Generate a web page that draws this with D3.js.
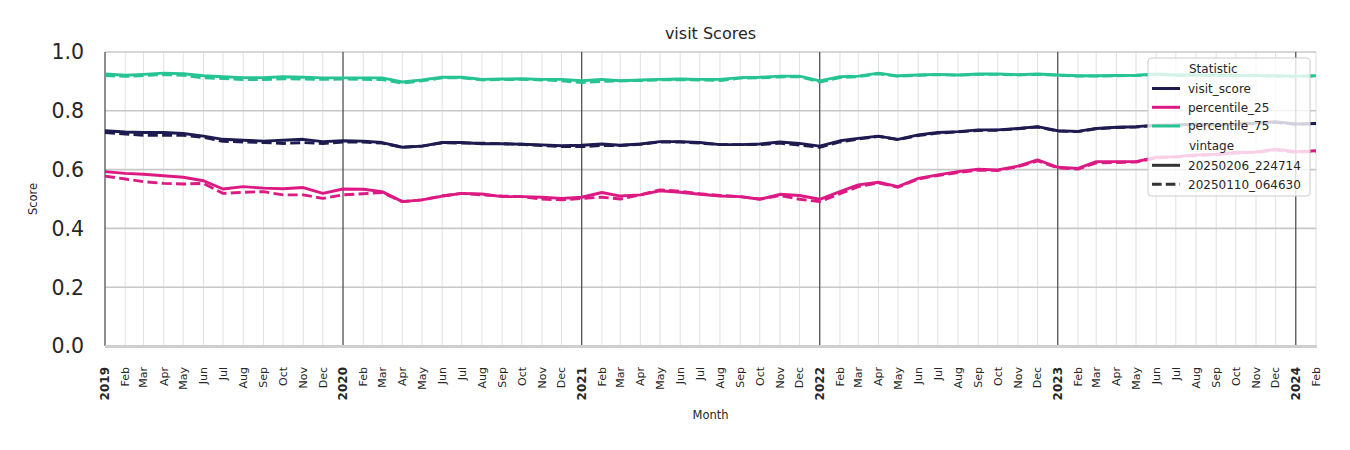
<!DOCTYPE html>
<html>
<head>
<meta charset="utf-8">
<script src="https://cdn.jsdelivr.net/npm/d3@7/dist/d3.min.js"></script>
<style>
  html, body { margin: 0; padding: 0; background: #fff; }
  svg { display: block; font-family: "DejaVu Sans", sans-serif; }
</style>
</head>
<body>
<svg id="chart" width="1350" height="450"></svg>
<script>
// ---------- DATA ----------
const months = d3.timeMonths(new Date(2019, 0, 1), new Date(2024, 1, 2)); // Jan 2019 .. Feb 2024 (62)
const yTicks = [0.0, 0.2, 0.4, 0.6, 0.8, 1.0];
const statistics = ["visit_score", "percentile_25", "percentile_75"];
const vintages = ["20250206_224714", "20250110_064630"];

const visitScoreNew = [
  .732,.728,.726,.726,.723,.714,.703,.700,.697,.700,.703,.695,
  .698,.697,.692,.676,.680,.692,.692,.688,.688,.686,.684,.681,
  .683,.687,.683,.687,.695,.695,.692,.685,.685,.687,.694,.689,
  .680,.698,.706,.714,.703,.718,.726,.729,.735,.735,.740,.746,
  .732,.730,.740,.744,.746,.751,.752,.754,.752,.755,.758,.763,
  .755,.757];
const visitScoreOld = [
  .726,.721,.717,.717,.717,.710,.696,.694,.692,.689,.692,.689,
  .694,.694,.690,.676,.680,.691,.690,.690,.688,.686,.682,.678,
  .678,.682,.682,.686,.694,.694,.690,.685,.685,.685,.690,.683,
  .676,.694,.704,.713,.702,.716,.724,.728,.733,.734,.739,.745,
  .731,.729,.739,.743,.745,.750,.751,.753,.751,.754,.757,.761,
  .754,.756];
const p25New = [
  .593,.587,.584,.579,.574,.562,.534,.542,.537,.535,.539,.519,
  .534,.533,.525,.491,.497,.510,.519,.517,.508,.508,.506,.502,
  .506,.522,.510,.514,.528,.523,.516,.510,.508,.499,.516,.512,
  .499,.525,.548,.557,.542,.570,.582,.593,.601,.599,.612,.633,
  .608,.604,.627,.627,.627,.642,.644,.650,.652,.658,.660,.669,
  .661,.664];
const p25Old = [
  .578,.568,.559,.553,.551,.553,.519,.523,.525,.514,.514,.502,
  .514,.518,.522,.491,.497,.510,.519,.514,.510,.508,.500,.497,
  .502,.506,.500,.514,.531,.526,.518,.512,.508,.500,.512,.499,
  .491,.518,.542,.555,.540,.568,.580,.590,.598,.597,.610,.630,
  .606,.602,.623,.624,.626,.640,.643,.648,.651,.656,.659,.667,
  .659,.662];
const p75New = [
  .925,.921,.924,.928,.926,.919,.916,.913,.913,.916,.914,.912,
  .912,.912,.912,.898,.905,.914,.914,.907,.908,.909,.907,.907,
  .902,.907,.902,.905,.907,.908,.907,.907,.913,.914,.918,.918,
  .902,.916,.918,.928,.919,.922,.924,.922,.925,.925,.923,.925,
  .922,.919,.919,.920,.921,.925,.922,.922,.921,.920,.920,.919,
  .918,.919];
const p75Old = [
  .920,.917,.920,.923,.921,.912,.910,.906,.906,.909,.908,.907,
  .908,.907,.906,.894,.902,.912,.912,.905,.906,.907,.905,.902,
  .896,.900,.902,.903,.905,.906,.905,.903,.911,.912,.915,.916,
  .898,.913,.916,.926,.917,.921,.923,.921,.924,.924,.922,.924,
  .921,.918,.918,.919,.920,.924,.921,.921,.920,.919,.919,.918,
  .917,.918];

const seriesValues = {
  visit_score:   { "20250206_224714": visitScoreNew, "20250110_064630": visitScoreOld },
  percentile_25: { "20250206_224714": p25New,        "20250110_064630": p25Old },
  percentile_75: { "20250206_224714": p75New,        "20250110_064630": p75Old }
};

// ---------- STYLE ----------
const colors = { visit_score: "#1d1b4f", percentile_25: "#dd1a84", percentile_75: "#27c493" };
const dashes = { "20250206_224714": null, "20250110_064630": "10,4.3" };

const svg = d3.select("#chart");
const margin = { left: 105, right: 34, top: 52, bottom: 104 };
const W = 1350, H = 450;
const x = d3.scaleTime()
  .domain([new Date(2019, 0, 1), new Date(2024, 1, 1)])
  .range([margin.left, W - margin.right]);
const y = d3.scaleLinear().domain([0, 1]).range([H - margin.bottom, margin.top]);

// month grid (light)
svg.append("g").selectAll("line")
  .data(months.filter(d => d.getMonth() !== 0))
  .join("line")
  .attr("x1", d => x(d)).attr("x2", d => x(d))
  .attr("y1", y(1)).attr("y2", y(0))
  .attr("stroke", "#dedede").attr("stroke-width", 0.9);

// horizontal grid
svg.append("g").selectAll("line")
  .data(yTicks.filter(v => v > 0))
  .join("line")
  .attr("x1", x.range()[0]).attr("x2", x.range()[1])
  .attr("y1", d => y(d)).attr("y2", d => y(d))
  .attr("stroke", "#c8c8c8").attr("stroke-width", 1.6);

// year lines (dark)
svg.append("g").selectAll("line")
  .data(months.filter(d => d.getMonth() === 0))
  .join("line")
  .attr("x1", d => x(d)).attr("x2", d => x(d))
  .attr("y1", y(1)).attr("y2", y(0))
  .attr("stroke", "#444").attr("stroke-width", 1.2);

// bottom baseline
svg.append("line")
  .attr("x1", x.range()[0]).attr("x2", x.range()[1] + 1)
  .attr("y1", y(0) + 0.5).attr("y2", y(0) + 0.5)
  .attr("stroke", "#cfcfcf").attr("stroke-width", 3);

// lines
const line = d3.line().x((d, i) => x(months[i])).y(d => y(d));
const gLines = svg.append("g");
statistics.forEach(s => {
  vintages.forEach(v => {
    gLines.append("path")
      .datum(seriesValues[s][v])
      .attr("d", line)
      .attr("fill", "none")
      .attr("stroke", colors[s])
      .attr("stroke-width", 2.9)
      .attr("stroke-linejoin", "round")
      .attr("stroke-dasharray", dashes[v]);
  });
});

// y tick labels
svg.append("g").selectAll("text")
  .data(yTicks)
  .join("text")
  .attr("x", 84).attr("y", d => y(d))
  .attr("dy", "0.36em")
  .attr("text-anchor", "end")
  .attr("font-size", 20.5)
  .attr("fill", "#262626")
  .text(d => d3.format(".1f")(d));

// x tick labels
const fmtMonth = d3.timeFormat("%b");
svg.append("g").selectAll("text")
  .data(months)
  .join("text")
  .attr("transform", d => `translate(${x(d)},${y(0) + 21}) rotate(-90)`)
  .attr("text-anchor", "end")
  .attr("dy", "0.35em")
  .attr("font-size", d => d.getMonth() === 0 ? 12 : 11)
  .attr("font-weight", d => d.getMonth() === 0 ? "bold" : "normal")
  .attr("fill", "#262626")
  .text(d => d.getMonth() === 0 ? d.getFullYear() : fmtMonth(d));

// title & axis labels
svg.append("text").attr("x", (x.range()[0] + x.range()[1]) / 2).attr("y", 39)
  .attr("text-anchor", "middle").attr("font-size", 16).attr("fill", "#262626").text("visit Scores");
svg.append("text").attr("x", (x.range()[0] + x.range()[1]) / 2).attr("y", 419)
  .attr("text-anchor", "middle").attr("font-size", 11.5).attr("fill", "#262626").text("Month");
svg.append("text").attr("transform", `translate(37,${(y(0) + y(1)) / 2}) rotate(-90)`)
  .attr("text-anchor", "middle").attr("font-size", 11.5).attr("fill", "#262626").text("Score");

// legend
const lg = svg.append("g");
lg.append("rect").attr("x", 1148).attr("y", 58).attr("width", 162).attr("height", 138)
  .attr("rx", 3).attr("fill", "rgba(255,255,255,0.8)").attr("stroke", "#cccccc").attr("stroke-width", 1);
const legendItems = [
  { label: "Statistic", header: true },
  ...statistics.map(s => ({ label: s, color: colors[s], dash: null })),
  { label: "vintage", header: true },
  ...vintages.map(v => ({ label: v, color: "#333333", dash: dashes[v] }))
];
const legendY = [69, 88.5, 107.3, 126, 146, 165.3, 184.3];
legendItems.forEach((it, i) => {
  const yy = legendY[i];
  if (!it.header) {
    lg.append("line").attr("x1", 1152).attr("x2", 1180).attr("y1", yy).attr("y2", yy)
      .attr("stroke", it.color).attr("stroke-width", 3)
      .attr("stroke-dasharray", it.dash ? "9.6,4.2" : null);
  }
  lg.append("text").attr("x", it.header ? 1189 : 1188).attr("y", yy).attr("dy", "0.36em")
    .attr("font-size", 12).attr("fill", "#262626").text(it.label);
});
</script>
</body>
</html>
